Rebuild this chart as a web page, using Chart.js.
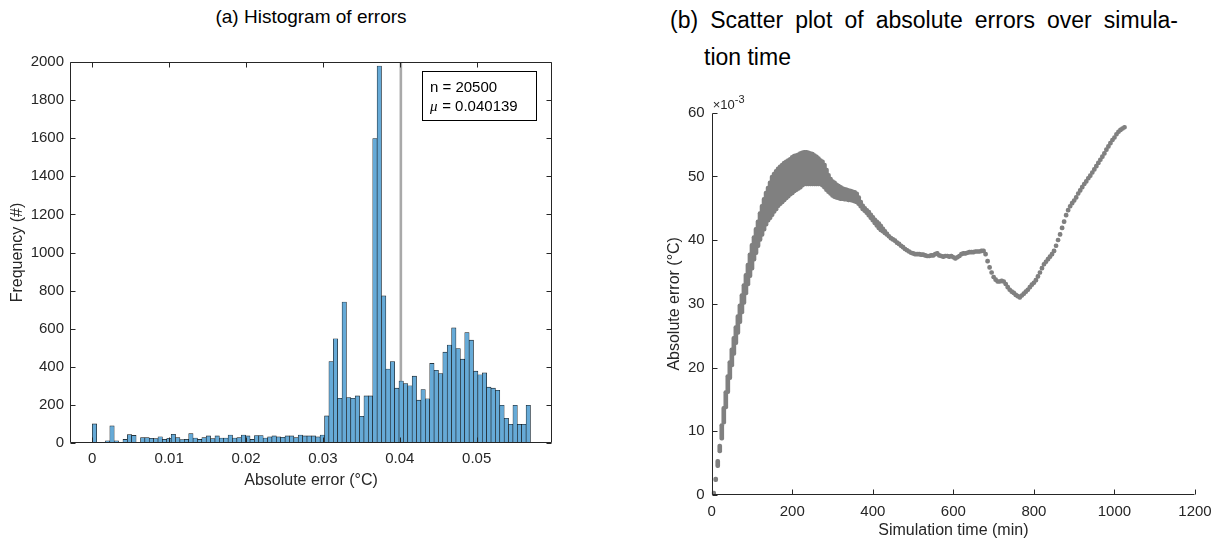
<!DOCTYPE html>
<html>
<head>
<meta charset="utf-8">
<script src="https://cdn.jsdelivr.net/npm/chart.js@4.4.1/dist/chart.umd.min.js"></script>
<style>
  html, body { margin: 0; padding: 0; background: #fff; }
  body { width: 1222px; height: 542px; position: relative; overflow: hidden;
         font-family: 'Liberation Sans', Arial, sans-serif; color: #000; }
  canvas { position: absolute; top: 0; }
  #histChart { left: 0; }
  #scatterChart { left: 611px; }
  .title { position: absolute; white-space: nowrap; }
  #titleA { left: 70px; width: 482px; text-align: center; top: 7px; font-size: 19px; line-height: 19px; }
  #titleB1 { left: 670px; width: 508px; top: 9px; font-size: 23px; line-height: 23px;
             text-align: justify; text-align-last: justify; white-space: normal; }
  #titleB2 { left: 704px; top: 46px; font-size: 23px; line-height: 23px; }
</style>
</head>
<body>
<div class="title" id="titleA">(a) Histogram of errors</div>
<div class="title" id="titleB1">(b) Scatter plot of absolute errors over simula-</div>
<div class="title" id="titleB2">tion time</div>
<canvas id="histChart" width="611" height="542"></canvas>
<canvas id="scatterChart" width="611" height="542"></canvas>

<script>
// --- DATA: histogram (a) ---
const binStart = 0;
const binWidth = 0.00057;          // 100 bins
const errorCounts = [
  100, 0, 0, 12, 90, 12, 0, 19, 44, 40,
  2, 28, 28, 25, 23, 33, 19, 25, 46, 28,
  18, 19, 49, 26, 19, 28, 37, 23, 37, 26,
  26, 42, 26, 28, 42, 37, 19, 39, 39, 26,
  32, 37, 32, 30, 37, 37, 28, 42, 37, 37,
  37, 32, 42, 142, 428, 547, 235, 740, 239, 235,
  247, 140, 247, 247, 1598, 1979, 772, 388, 428, 288,
  325, 312, 300, 351, 225, 281, 232, 418, 382, 365,
  477, 514, 604, 496, 440, 579, 540, 377, 358, 368,
  293, 288, 277, 198, 130, 98, 198, 98, 98, 198
];
const histXTicks = [0, 0.01, 0.02, 0.03, 0.04, 0.05];
const sampleCount = 20500;
const meanError = 0.040139;

// --- DATA: scatter (b), error range per time step (x10^-3 °C) ---
const simTime = [
  5, 10, 15, 20, 25, 30, 35, 40, 45, 50, 55, 60, 65, 70, 75, 80, 85, 90, 95, 100,
  105, 110, 115, 120, 125, 130, 135, 140, 145, 150, 155, 160, 165, 170, 175, 180, 185, 190, 195, 200,
  205, 210, 215, 220, 225, 230, 235, 240, 245, 250, 255, 260, 265, 270, 275, 280, 285, 290, 295, 300,
  305, 310, 315, 320, 325, 330, 335, 340, 345, 350, 355, 360, 365, 370, 375, 380, 385, 390, 395, 400,
  405, 410, 415, 420, 425, 430, 435, 440, 445, 450, 455, 460, 465, 470, 475, 480, 485, 490, 495, 500,
  505, 510, 515, 520, 525, 530, 535, 540, 545, 550, 555, 560, 565, 570, 575, 580, 585, 590, 595, 600,
  605, 610, 615, 620, 625, 630, 635, 640, 645, 650, 655, 660, 665, 670, 675, 680, 685, 690, 695, 700,
  705, 710, 715, 720, 725, 730, 735, 740, 745, 750, 755, 760, 765, 770, 775, 780, 785, 790, 795, 800,
  805, 810, 815, 820, 825, 830, 835, 840, 845, 850, 855, 860, 865, 870, 875, 880, 885, 890, 895, 900,
  905, 910, 915, 920, 925, 930, 935, 940, 945, 950, 955, 960, 965, 970, 975, 980, 985, 990, 995, 1000,
  1005, 1010, 1015, 1020, 1025
];
const errLow = [
  0.0, 2.1, 4.3, 6.6, 8.6, 11.1, 13.5, 15.9, 18.1, 20.1, 21.9, 23.6, 25.2, 26.9, 28.4, 29.9, 31.4, 32.8, 34.1, 35.3,
  36.7, 37.7, 38.8, 39.8, 40.6, 41.4, 42.2, 42.8, 43.2, 43.7, 44.2, 44.6, 45.1, 45.4, 45.7, 46.0, 46.3, 46.6, 46.9, 47.1,
  47.4, 47.6, 47.8, 48.0, 48.3, 48.5, 48.5, 48.5, 48.5, 48.5, 48.5, 48.5, 48.5, 48.5, 48.3, 48.0, 47.6, 47.3, 47.0, 46.7,
  46.5, 46.4, 46.3, 46.2, 46.2, 46.1, 46.1, 46.0, 46.0, 45.9, 45.8, 45.7, 45.4, 45.0, 44.6, 44.3, 44.0, 43.6, 43.2, 42.8,
  42.4, 42.0, 41.6, 41.3, 41.1, 40.8, 40.6, 40.3, 40.0, 39.8, 39.6, 39.3, 39.1, 38.8, 38.6, 38.3, 38.1, 37.9, 37.7, 37.6,
  37.5, 37.5, 37.5, 37.4, 37.4, 37.3, 37.2, 37.2, 37.3, 37.3, 37.5, 37.6, 37.3, 37.2, 37.1, 37.2, 37.2, 37.1, 37.2, 37.0,
  36.8, 37.0, 37.2, 37.5, 37.6, 37.6, 37.7, 37.8, 37.8, 37.8, 37.9, 37.9, 37.9, 38.0, 38.0, 37.5, 36.4, 35.4, 34.6, 33.9,
  33.5, 33.2, 33.2, 33.3, 33.2, 32.8, 32.3, 31.9, 31.6, 31.4, 31.1, 30.9, 30.7, 31.0, 31.3, 31.6, 31.9, 32.3, 32.7, 33.0,
  33.4, 34.0, 34.6, 35.3, 35.9, 36.3, 36.7, 37.1, 37.5, 38.0, 38.8, 39.7, 40.6, 41.6, 42.6, 43.6, 44.4, 45.0, 45.5, 45.9,
  46.4, 47.0, 47.5, 48.0, 48.5, 48.9, 49.4, 49.8, 50.3, 50.8, 51.3, 51.8, 52.3, 52.8, 53.3, 53.9, 54.4, 54.9, 55.4, 55.8,
  56.3, 56.7, 57.0, 57.2, 57.4
];
const errHigh = [
  0.0, 2.8, 5.6, 8.0, 11.2, 13.9, 16.4, 18.9, 21.1, 23.1, 24.9, 26.6, 28.3, 30.0, 31.6, 33.2, 34.8, 36.4, 38.0, 39.5,
  40.7, 42.0, 43.2, 44.5, 45.6, 46.7, 47.7, 48.5, 49.3, 50.2, 50.7, 51.1, 51.5, 51.8, 52.1, 52.4, 52.6, 52.8, 53.0, 53.3,
  53.5, 53.6, 53.7, 53.9, 54.0, 54.1, 54.1, 54.0, 53.9, 53.8, 53.6, 53.4, 53.1, 52.8, 52.6, 52.1, 51.3, 50.5, 49.9, 49.5,
  49.3, 49.0, 48.8, 48.6, 48.4, 48.3, 48.2, 48.1, 48.0, 47.9, 47.8, 47.6, 47.0, 46.3, 45.7, 45.3, 45.0, 44.7, 44.3, 43.9,
  43.5, 43.2, 42.9, 42.5, 42.1, 41.7, 41.3, 40.9, 40.5, 40.2, 39.9, 39.6, 39.3, 39.0, 38.8, 38.5, 38.3, 38.1, 37.9, 37.7,
  37.5, 37.5, 37.5, 37.4, 37.4, 37.3, 37.2, 37.2, 37.3, 37.3, 37.5, 37.6, 37.3, 37.2, 37.1, 37.2, 37.2, 37.1, 37.2, 37.0,
  36.8, 37.0, 37.2, 37.5, 37.6, 37.6, 37.7, 37.8, 37.8, 37.8, 37.9, 37.9, 37.9, 38.0, 38.0, 37.5, 36.4, 35.4, 34.6, 33.9,
  33.5, 33.2, 33.2, 33.3, 33.2, 32.8, 32.3, 31.9, 31.6, 31.4, 31.1, 30.9, 30.7, 31.0, 31.3, 31.6, 31.9, 32.3, 32.7, 33.0,
  33.4, 34.0, 34.6, 35.3, 35.9, 36.3, 36.7, 37.1, 37.5, 38.0, 38.8, 39.7, 40.6, 41.6, 42.6, 43.6, 44.4, 45.0, 45.5, 45.9,
  46.4, 47.0, 47.5, 48.0, 48.5, 48.9, 49.4, 49.8, 50.3, 50.8, 51.3, 51.8, 52.3, 52.8, 53.3, 53.9, 54.4, 54.9, 55.4, 55.8,
  56.3, 56.7, 57.0, 57.2, 57.4
];

const axisColor = "#262626";
Chart.defaults.font.family = "'Liberation Sans', Arial, sans-serif";
Chart.defaults.font.size = 15;
Chart.defaults.color = axisColor;


// plugin: MATLAB-like axis lines and inward ticks
const axesFrame = {
  id: "axesFrame",
  afterDraw(chart, args, opts) {
    const { ctx, chartArea: a, scales: { x, y } } = chart;
    const tl = opts.tickLen || 5;
    ctx.save();
    ctx.strokeStyle = axisColor;
    ctx.lineWidth = 1;
    ctx.beginPath();
    const L = Math.round(a.left) + 0.5, R = Math.round(a.right) - 0.5;
    const T = Math.round(a.top) + 0.5, B = Math.round(a.bottom) - 0.5;
    if (opts.box) {
      ctx.rect(L, T, R - L, B - T);
    } else {
      ctx.moveTo(L, T); ctx.lineTo(L, B); ctx.lineTo(R, B);
    }
    x.ticks.forEach(t => {
      const px = Math.round(x.getPixelForValue(t.value)) + 0.5;
      ctx.moveTo(px, B); ctx.lineTo(px, B - tl);
      if (opts.box) { ctx.moveTo(px, T); ctx.lineTo(px, T + tl); }
    });
    y.ticks.forEach(t => {
      const py = Math.round(y.getPixelForValue(t.value)) + 0.5;
      ctx.moveTo(L, py); ctx.lineTo(L + tl, py);
      if (opts.box) { ctx.moveTo(R, py); ctx.lineTo(R - tl, py); }
    });
    ctx.stroke();
    ctx.restore();
  }
};

// plugin: mean line behind the bars + info box
const histExtras = {
  id: "histExtras",
  beforeDatasetsDraw(chart) {
    const { ctx, chartArea: a, scales: { x } } = chart;
    const px = x.getPixelForValue(meanError);
    ctx.save();
    ctx.strokeStyle = "#a9a9a9";
    ctx.lineWidth = 2.6;
    ctx.beginPath();
    ctx.moveTo(px, a.top); ctx.lineTo(px, a.bottom);
    ctx.stroke();
    ctx.restore();
  },
  afterDraw(chart) {
    const { ctx, chartArea: a } = chart;
    const bx = a.right - 130, by = a.top + 9, bw = 114, bh = 49;
    ctx.save();
    ctx.fillStyle = "#fff";
    ctx.fillRect(bx, by, bw, bh);
    ctx.strokeStyle = "#000";
    ctx.lineWidth = 1;
    ctx.strokeRect(bx + 0.5, by + 0.5, bw, bh);
    ctx.fillStyle = "#000";
    ctx.font = "15px 'Liberation Sans', Arial, sans-serif";
    ctx.textBaseline = "alphabetic";
    ctx.fillText("n = " + sampleCount, bx + 8, by + 21);
    ctx.font = "italic 15px 'Liberation Serif', serif";
    ctx.fillText("\u03bc", bx + 8, by + 40);
    ctx.font = "15px 'Liberation Sans', Arial, sans-serif";
    ctx.fillText(" = " + meanError.toFixed(6), bx + 16, by + 40);
    ctx.restore();
  }
};

// plugin: x10^-3 exponent label
const expLabel = {
  id: "expLabel",
  afterDraw(chart) {
    const { ctx, chartArea: a } = chart;
    ctx.save();
    ctx.fillStyle = axisColor;
    ctx.textBaseline = "alphabetic";
    ctx.font = "13px 'Liberation Sans', Arial, sans-serif";
    ctx.fillText("\u00d710", a.left + 1, a.top - 4);
    const w = ctx.measureText("\u00d710").width;
    ctx.font = "11px 'Liberation Sans', Arial, sans-serif";
    ctx.fillText("-3", a.left + 1 + w, a.top - 10);
    ctx.restore();
  }
};


// --- HISTOGRAM ---
new Chart(document.getElementById("histChart"), {
  type: "bar",
  data: {
    datasets: [{
      data: errorCounts.map((c, i) => ({ x: binStart + (i + 0.5) * binWidth, y: c })),
      backgroundColor: "#66aad7",
      borderColor: "#111",
      borderWidth: 0.6,
      borderSkipped: "bottom",
      barPercentage: 1,
      categoryPercentage: 1
    }]
  },
  options: {
    responsive: false,
    animation: false,
    devicePixelRatio: 1,
    events: [],
    layout: { padding: { top: 62, right: 59, bottom: 49, left: 0 } },
    plugins: { legend: { display: false }, tooltip: { enabled: false }, axesFrame: { box: true, tickLen: 5 } },
    scales: {
      x: {
        type: "linear",
        min: -0.0029,
        max: 0.0598,
        offset: false,
        grid: { display: false, drawTicks: false },
        border: { display: false },
        afterBuildTicks: s => { s.ticks = histXTicks.map(v => ({ value: v })); },
        afterFit: s => { s.height = 50; },
        ticks: { padding: 7, maxRotation: 0, callback: v => String(v) },
        title: { display: true, text: "Absolute error (\u00b0C)", font: { size: 16 }, color: axisColor, padding: { top: 0, bottom: 3 } }
      },
      y: {
        min: 0,
        max: 2000,
        grid: { display: false, drawTicks: false },
        border: { display: false },
        afterFit: s => { s.width = 70; },
        ticks: { stepSize: 200, padding: 6, callback: v => String(v) },
        title: { display: true, text: "Frequency (#)", font: { size: 16 }, color: axisColor, padding: { top: 8, bottom: 0 } }
      }
    }
  },
  plugins: [axesFrame, histExtras]
});


// --- SCATTER (error range per time step) ---
new Chart(document.getElementById("scatterChart"), {
  type: "bar",
  data: {
    datasets: [{
      data: simTime.map((t, i) => ({ x: t, y: [errLow[i], errHigh[i]] })),
      backgroundColor: "#808080",
      borderWidth: 0,
      borderRadius: 2,
      borderSkipped: false,
      barThickness: 4,
      minBarLength: 4
    }]
  },
  options: {
    responsive: false,
    animation: false,
    devicePixelRatio: 1,
    events: [],
    layout: { padding: { top: 112.7, right: 27, bottom: 2, left: 0 } },
    plugins: { legend: { display: false }, tooltip: { enabled: false }, axesFrame: { box: false, tickLen: 5 } },
    scales: {
      x: {
        type: "linear",
        min: 0,
        max: 1200,
        offset: false,
        grid: { display: false, drawTicks: false, offset: false },
        border: { display: false },
        afterFit: s => { s.height = 45; },
        ticks: { stepSize: 200, padding: 8, maxRotation: 0, callback: v => String(v) },
        title: { display: true, text: "Simulation time (min)", font: { size: 16 }, color: axisColor, padding: { top: 0, bottom: 0 } }
      },
      y: {
        min: 0,
        max: 60,
        grid: { display: false, drawTicks: false },
        border: { display: false },
        afterFit: s => { s.width = 100.7; },
        ticks: { stepSize: 10, padding: 7, callback: v => String(v) },
        title: { display: true, text: "Absolute error (\u00b0C)", font: { size: 16 }, color: axisColor, padding: { top: 54, bottom: 0 } }
      }
    }
  },
  plugins: [axesFrame, expLabel]
});
</script>
</body>
</html>
